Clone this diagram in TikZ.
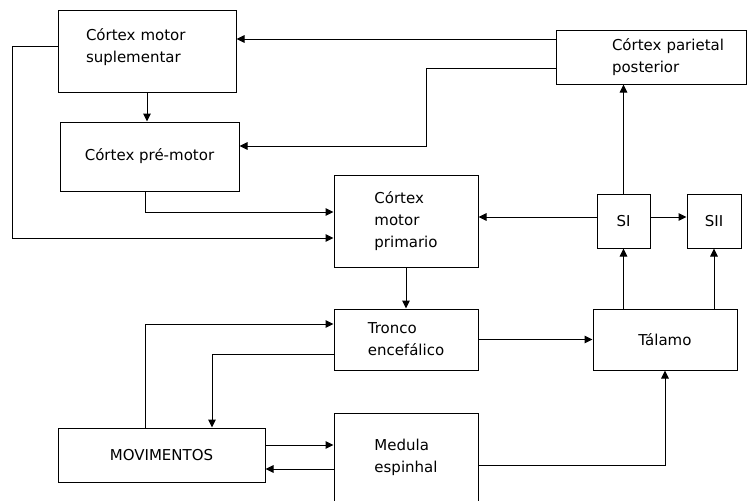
\documentclass[tikz,border=0pt]{standalone}
\usepackage{fontspec}
\setmainfont{DejaVu Sans}
\usetikzlibrary{arrows.meta}
\tikzset{
    brainblock/.style={rectangle, draw=black, fill=white, align=left, inner sep=2pt, font=\fontsize{15}{22}\selectfont, line width=1pt},
    brainarrow/.style={->, >={Triangle[length=8pt, width=7.5pt]}, draw=black, line width=1pt}
}

\begin{document}
\begin{tikzpicture}[x=1pt, y=-1pt]
    \clip (0,0) rectangle (753,501);
    % Nodes
    \node[brainblock, minimum width=178pt, minimum height=82pt, inner xsep=28pt, text width=122pt] (sma) at (147,51) {Córtex motor\\suplementar\\[-10pt]\mbox{}};
    \node[brainblock, minimum width=179pt, minimum height=69pt] (pmc) at (149.5,156.5) {Córtex pré-motor};
    \node[brainblock, minimum width=190pt, minimum height=54pt, inner xsep=56pt, text width=78pt] (ppc) at (651,57) {\mbox{Córtex parietal}\\posterior};
    \node[brainblock, minimum width=144pt, minimum height=92pt] (m1) at (406,221) {Córtex\\motor\\primario};
    \node[brainblock, minimum width=53pt, minimum height=54pt] (si) at (623.5,221) {SI};
    \node[brainblock, minimum width=54pt, minimum height=54pt] (sii) at (714,221) {SII};
    \node[brainblock, minimum width=144pt, minimum height=61pt] (tronco) at (406,339.5) {Tronco\\encefálico};
    \node[brainblock, minimum width=144pt, minimum height=61pt] (talamo) at (665,339.5) {Tálamo};
    \node[brainblock, minimum width=207pt, minimum height=54pt] (mov) at (161.5,455) {MOVIMENTOS};
    \node[brainblock, minimum width=144pt, minimum height=108pt, anchor=north] (medula) at (406,413) {Medula\\espinhal\\[2pt]\mbox{}};

    % Paths
    \draw[brainarrow] ([yshift=18pt]ppc.west) -- ([yshift=12pt]sma.east);
    \draw[brainarrow] ([yshift=-11pt]ppc.west) -- ++(-129,0) |- ([yshift=10.5pt]pmc.east);
    \draw[brainarrow] (sma.south) -- (sma.south |- pmc.north);
    \draw[brainarrow] ([xshift=-4.5pt]pmc.south) |- ([yshift=9pt]m1.west);
    \draw[brainarrow] ([yshift=5pt]sma.west) -- ++(-45,0) |- ([yshift=-17pt]m1.west);
    \draw[brainarrow] (si.north) -- (si.north |- ppc.south);
    \draw[brainarrow] ([yshift=4pt]si.west) -- ([yshift=4pt]m1.east);
    \draw[brainarrow] ([yshift=4pt]si.east) -- ([yshift=4pt]sii.west);
    \draw[brainarrow] (m1.south) -- (tronco.north);
    \draw[brainarrow] (tronco.east) -- (talamo.west);
    \draw[brainarrow] (si.south |- talamo.north) -- (si.south);
    \draw[brainarrow] (sii.south |- talamo.north) -- (sii.south);
    \draw[brainarrow] ([yshift=2pt]medula.east) -| (talamo.south);

    % Movement loop
    \draw[brainarrow] ([xshift=-16.5pt]mov.north) |- ([yshift=15.5pt]tronco.west);
    \draw[brainarrow] ([yshift=-14.5pt]tronco.west) -| ([xshift=50.5pt]mov.north);
    \draw[brainarrow] ([yshift=10pt]mov.east) -- ([yshift=10pt]mov.east -| medula.west);
    \draw[brainarrow] ([yshift=-14pt]mov.east -| medula.west) -- ([yshift=-14pt]mov.east);
\end{tikzpicture}
\end{document}
